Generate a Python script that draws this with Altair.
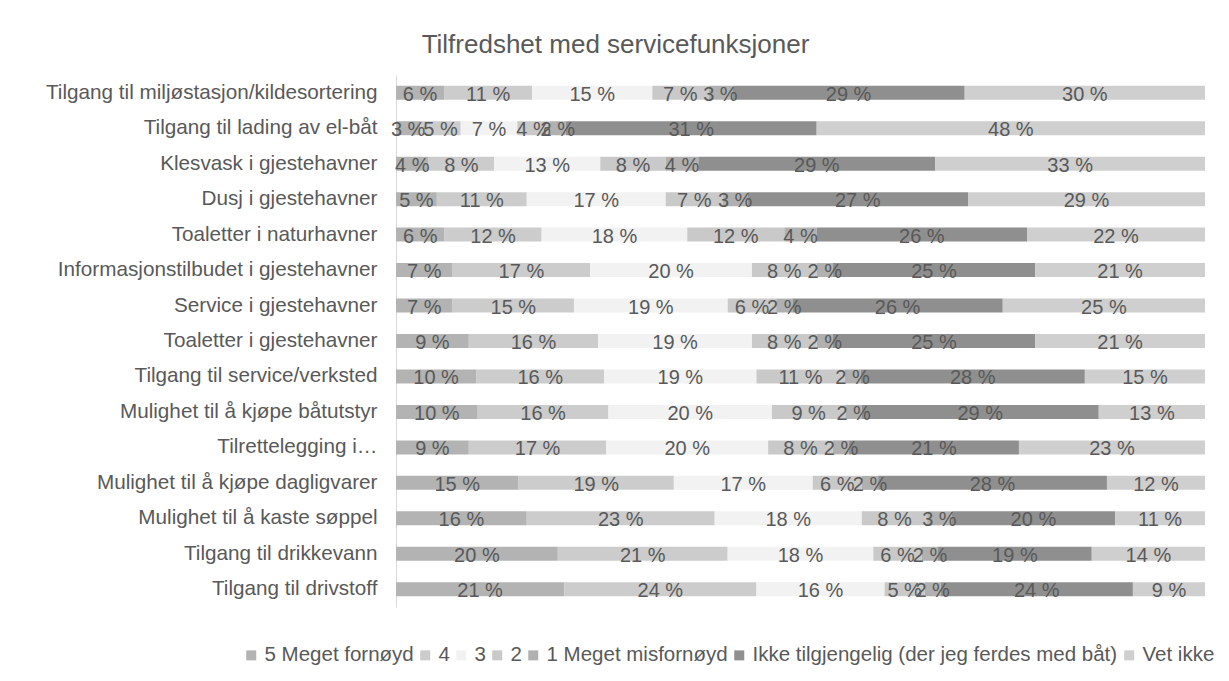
import altair as alt
import pandas as pd

categories = [
    "Tilgang til miljøstasjon/kildesortering",
    "Tilgang til lading av el-båt",
    "Klesvask i gjestehavner",
    "Dusj i gjestehavner",
    "Toaletter i naturhavner",
    "Informasjonstilbudet i gjestehavner",
    "Service i gjestehavner",
    "Toaletter i gjestehavner",
    "Tilgang til service/verksted",
    "Mulighet til å kjøpe båtutstyr",
    "Tilrettelegging i…",
    "Mulighet til å kjøpe dagligvarer",
    "Mulighet til å kaste søppel",
    "Tilgang til drikkevann",
    "Tilgang til drivstoff",
]

series = [
    "5 Meget fornøyd",
    "4",
    "3",
    "2",
    "1 Meget misfornøyd",
    "Ikke tilgjengelig (der jeg ferdes med båt)",
    "Vet ikke",
]

v5 = [6, 3, 4, 5, 6, 7, 7, 9, 10, 10, 9, 15, 16, 20, 21]
v4 = [11, 5, 8, 11, 12, 17, 15, 16, 16, 16, 17, 19, 23, 21, 24]
v3 = [15, 7, 13, 17, 18, 20, 19, 19, 19, 20, 20, 17, 18, 18, 16]
v2 = [7, 4, 8, 7, 12, 8, 6, 8, 11, 9, 8, 6, 8, 6, 5]
v1 = [3, 2, 4, 3, 4, 2, 2, 2, 2, 2, 2, 2, 3, 2, 2]
vikke = [29, 31, 29, 27, 26, 25, 26, 25, 28, 29, 21, 28, 20, 19, 24]
vvet = [30, 48, 33, 29, 22, 21, 25, 21, 15, 13, 23, 12, 11, 14, 9]

colors = ["#b3b3b3", "#cccccc", "#f2f2f2", "#c9c9c9", "#b0b0b0", "#8f8f8f", "#cfcfcf"]

values = [v5, v4, v3, v2, v1, vikke, vvet]
rows = []
for si, (s, vals) in enumerate(zip(series, values)):
    for ci, c in enumerate(categories):
        rows.append({"cat": c, "series": s, "order": si, "value": vals[ci]})
df = pd.DataFrame(rows)

FONT = "Liberation Sans"
TXT = "#595959"
FS = 20

base = alt.Chart(df).transform_stack(
    stack="value", groupby=["cat"], as_=["v0", "v1"], offset="normalize",
    sort=[alt.SortField("order", order="ascending")],
).transform_calculate(
    mid="(datum.v0 + datum.v1) / 2",
    label="datum.value + ' %'",
)

yenc = alt.Y(
    "cat:N", sort=categories, title=None,
    scale=alt.Scale(paddingInner=0, paddingOuter=0),
    axis=alt.Axis(
        ticks=False, domain=True, domainColor="#d9d9d9", labelFont=FONT,
        labelFontSize=20.7, labelColor=TXT, labelPadding=19, labelLimit=500,
        grid=False,
    ),
)

bars = base.mark_bar(size=14).encode(
    x=alt.X("v0:Q", scale=alt.Scale(domain=[0, 1]), axis=None),
    x2="v1:Q",
    y=yenc,
    color=alt.Color(
        "series:N", sort=series,
        scale=alt.Scale(domain=series, range=colors),
        legend=alt.Legend(
            title=None, orient="none", direction="horizontal", columns=7,
            legendX=-155, legendY=570, symbolType="square", symbolSize=100,
            symbolStrokeWidth=0, labelFont=FONT, labelFontSize=20.5,
            labelColor=TXT, columnPadding=1, labelOffset=3, symbolOffset=0,
            labelLimit=600,
        ),
    ),
    order=alt.Order("order:Q"),
)

texts = base.mark_text(font=FONT, fontSize=FS, color=TXT, baseline="middle", dy=2).encode(
    x="mid:Q",
    y=alt.Y("cat:N", sort=categories),
    text="label:N",
)

chart = (bars + texts).properties(
    width=809, height=532,
    title=alt.TitleParams(
        "Tilfredshet med servicefunksjoner", font=FONT, fontSize=26,
        fontWeight="normal", color=TXT, anchor="middle", dx=-185, offset=17,
    ),
    autosize=alt.AutoSizeParams(type="none"),
    padding={"left": 388, "top": 67, "right": 16, "bottom": 66},
).configure(background="white", view=alt.ViewConfig(stroke="transparent", strokeWidth=0))

chart.save("out.html", embed_options={"renderer": "svg", "actions": False})
